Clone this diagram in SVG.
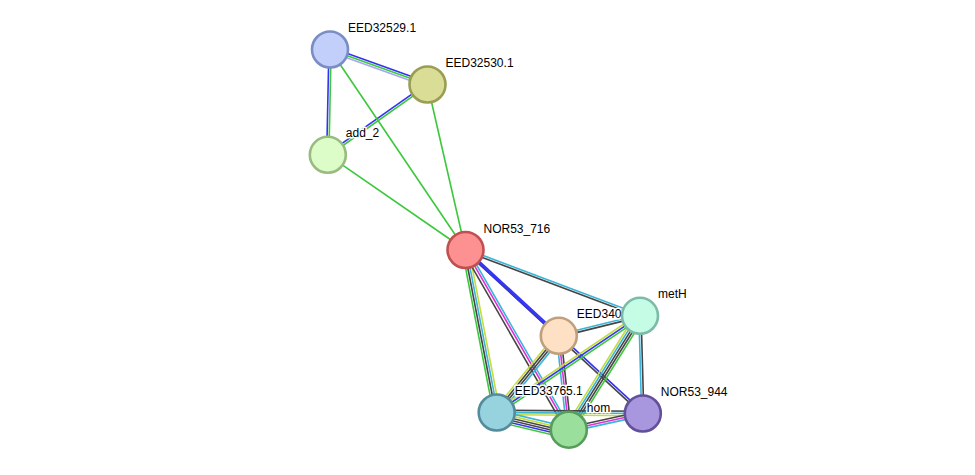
<svg xmlns="http://www.w3.org/2000/svg" width="975" height="475" viewBox="0 0 975 475">
<style>
  line { stroke-width: 1.6; fill: none; }
  .bl { stroke: #3333f0; }
  .gr { stroke: #3cc83c; }
  .cy { stroke: #3ab4d8; }
  .dk { stroke: #454545; }
  .mg { stroke: #dd30d8; }
  .ye { stroke: #c4dc3c; }
  .lv { stroke: #a6a6f4; }
  circle { stroke-width: 2.6; }
  text { font-family: "Liberation Sans", Arial, sans-serif; font-size: 12px; fill: #000; stroke: #fff; stroke-width: 3; paint-order: stroke; stroke-linejoin: round; }
</style>
<rect width="975" height="475" fill="#fff"/>
<g id="connectors">
  <!-- EED32529.1 - EED32530.1 -->
  <g transform="translate(330,49.5) rotate(19.75)">
    <line class="bl" x1="0" y1="-2.2" x2="103.6" y2="-2.2"/>
    <line class="gr" x1="0" y1="0" x2="103.6" y2="0"/>
    <line class="lv" x1="0" y1="2.2" x2="103.6" y2="2.2"/>
  </g>
  <!-- EED32529.1 - add_2 -->
  <g transform="translate(330,49.5) rotate(91.2)">
    <line class="bl" x1="0" y1="1.1" x2="105.3" y2="1.1"/>
    <line class="gr" x1="0" y1="-1.1" x2="105.3" y2="-1.1"/>
  </g>
  <!-- EED32530.1 - add_2 -->
  <g transform="translate(427.5,84.5) rotate(144.8)">
    <line class="bl" x1="0" y1="1.1" x2="122" y2="1.1"/>
    <line class="gr" x1="0" y1="-1.1" x2="122" y2="-1.1"/>
  </g>
  <line class="gr" x1="330" y1="49.5" x2="465.5" y2="250"/>
  <line class="gr" x1="427.5" y1="84.5" x2="465.5" y2="250"/>
  <line class="gr" x1="327.8" y1="154.8" x2="465.5" y2="250"/>
  <!-- NOR53_716 - metH -->
  <g transform="translate(465.5,250) rotate(20.66)">
    <line class="cy" x1="0" y1="-1.1" x2="186.5" y2="-1.1"/>
    <line class="dk" x1="0" y1="1.1" x2="186.5" y2="1.1"/>
  </g>
  <!-- NOR53_716 - NOR53_944 -->
  <g transform="translate(465.5,250) rotate(42.68)">
    <line class="bl" x1="0" y1="-1.1" x2="241.2" y2="-1.1"/>
    <line class="dk" x1="0" y1="1.1" x2="241.2" y2="1.1"/>
  </g>
  <!-- NOR53_716 - EED340 -->
  <g transform="translate(465.5,250) rotate(42.6)">
    <line class="bl" x1="0" y1="0.6" x2="126.8" y2="0.6" style="stroke-width:2.4"/>
  </g>
  <!-- NOR53_716 - EED33765.1 -->
  <g transform="translate(465.5,250) rotate(79.13)">
    <line class="gr" x1="0" y1="3.3" x2="165.5" y2="3.3"/>
    <line class="dk" x1="0" y1="1.1" x2="165.5" y2="1.1"/>
    <line class="cy" x1="0" y1="-1.1" x2="165.5" y2="-1.1"/>
    <line class="ye" x1="0" y1="-3.3" x2="165.5" y2="-3.3"/>
  </g>
  <!-- NOR53_716 - hom -->
  <g transform="translate(465.5,250) rotate(60.1)">
    <line class="dk" x1="0" y1="2.8" x2="207.3" y2="2.8"/>
    <line class="mg" x1="0" y1="0" x2="207.3" y2="0"/>
    <line class="cy" x1="0" y1="-2.2" x2="207.3" y2="-2.2"/>
  </g>
  <!-- EED340 - metH -->
  <g transform="translate(558.8,335.8) rotate(-13.84)">
    <line class="cy" x1="0" y1="-1.1" x2="83.6" y2="-1.1"/>
    <line class="dk" x1="0" y1="1.1" x2="83.6" y2="1.1"/>
  </g>
  <!-- EED340 - EED33765.1 -->
  <g transform="translate(558.8,335.8) rotate(129)">
    <line class="ye" x1="0" y1="3.3" x2="98.7" y2="3.3"/>
    <line class="dk" x1="0" y1="1.1" x2="98.7" y2="1.1"/>
    <line class="dk" x1="0" y1="-1.1" x2="98.7" y2="-1.1"/>
    <line class="cy" x1="0" y1="-3.3" x2="98.7" y2="-3.3"/>
  </g>
  <!-- EED340 - hom -->
  <g transform="translate(558.8,335.8) rotate(83.9)">
    <line class="cy" x1="0" y1="2.2" x2="94.4" y2="2.2"/>
    <line class="mg" x1="0" y1="0" x2="94.4" y2="0"/>
    <line class="dk" x1="0" y1="-2.2" x2="94.4" y2="-2.2"/>
  </g>
  <!-- metH - EED33765.1 -->
  <g transform="translate(640,315.8) rotate(146)">
    <line class="ye" x1="0" y1="2.2" x2="172.9" y2="2.2"/>
    <line class="bl" x1="0" y1="0" x2="172.9" y2="0"/>
    <line class="gr" x1="0" y1="-2.2" x2="172.9" y2="-2.2"/>
  </g>
  <!-- metH - hom -->
  <g transform="translate(640,315.8) rotate(122)">
    <line class="ye" x1="0" y1="4.4" x2="134.3" y2="4.4"/>
    <line class="cy" x1="0" y1="2.2" x2="134.3" y2="2.2"/>
    <line class="dk" x1="0" y1="0" x2="134.3" y2="0"/>
    <line class="dk" x1="0" y1="-2.2" x2="134.3" y2="-2.2"/>
    <line class="gr" x1="0" y1="-4.4" x2="134.3" y2="-4.4"/>
  </g>
  <!-- metH - NOR53_944 -->
  <g transform="translate(640,315.8) rotate(88.4)">
    <line class="cy" x1="0" y1="1.1" x2="97.7" y2="1.1"/>
    <line class="dk" x1="0" y1="-1.1" x2="97.7" y2="-1.1"/>
  </g>
  <!-- EED33765.1 - NOR53_944 -->
  <g transform="translate(496.7,412.5) rotate(0.4)">
    <line class="dk" x1="0" y1="-2.2" x2="146.1" y2="-2.2"/>
    <line class="cy" x1="0" y1="0" x2="146.1" y2="0"/>
    <line class="ye" x1="0" y1="2.2" x2="146.1" y2="2.2"/>
  </g>
  <!-- EED33765.1 - hom -->
  <g transform="translate(496.7,412.5) rotate(13.4)">
    <line class="cy" x1="0" y1="-2.2" x2="74.1" y2="-2.2"/>
    <line class="ye" x1="0" y1="0" x2="74.1" y2="0"/>
    <line class="dk" x1="0" y1="2.2" x2="74.1" y2="2.2"/>
    <line class="dk" x1="0" y1="4.4" x2="74.1" y2="4.4"/>
    <line class="bl" x1="0" y1="6.6" x2="74.1" y2="6.6"/>
    <line class="gr" x1="0" y1="8.8" x2="74.1" y2="8.8"/>
  </g>
  <!-- hom - NOR53_944 -->
  <g transform="translate(568.8,429.7) rotate(-12.35)">
    <line class="dk" x1="0" y1="-2.2" x2="75.8" y2="-2.2"/>
    <line class="mg" x1="0" y1="0" x2="75.8" y2="0"/>
    <line class="cy" x1="0" y1="2.2" x2="75.8" y2="2.2"/>
  </g>
</g>
<g id="EED32529.1">
  <circle cx="330" cy="49.5" r="18" fill="#c1cffa" stroke="#7b8dc6"/>
  <text x="348" y="32">EED32529.1</text>
</g>
<g id="EED32530.1">
  <circle cx="427.5" cy="84.5" r="18" fill="#d9dd96" stroke="#9a9e52"/>
  <text x="445.5" y="67">EED32530.1</text>
</g>
<g id="add_2">
  <circle cx="327.8" cy="154.8" r="18" fill="#dcfcc8" stroke="#99bb82"/>
  <text x="345.8" y="137.3">add_2</text>
</g>
<g id="NOR53_716">
  <circle cx="465.5" cy="250" r="18" fill="#fd9191" stroke="#c05050"/>
  <text x="483.5" y="232.5">NOR53_716</text>
</g>
<g id="EED340">
  <circle cx="558.8" cy="335.8" r="18" fill="#fee1c4" stroke="#c0a07c"/>
  <text x="576.8" y="318.3">EED340</text>
</g>
<g id="metH">
  <circle cx="640" cy="315.8" r="18" fill="#c5fce6" stroke="#7dbba8"/>
  <text x="658" y="298.3">metH</text>
</g>
<g id="EED33765.1">
  <circle cx="496.7" cy="412.5" r="18" fill="#97d2df" stroke="#548c9c"/>
  <text x="514.7" y="395">EED33765.1</text>
</g>
<g id="hom">
  <circle cx="568.8" cy="429.7" r="18" fill="#9bdf9c" stroke="#579c5a"/>
  <text x="586.8" y="412.2">hom</text>
</g>
<g id="NOR53_944">
  <circle cx="642.8" cy="413.5" r="18" fill="#a897de" stroke="#63509a"/>
  <text x="660.8" y="396">NOR53_944</text>
</g>
</svg>
